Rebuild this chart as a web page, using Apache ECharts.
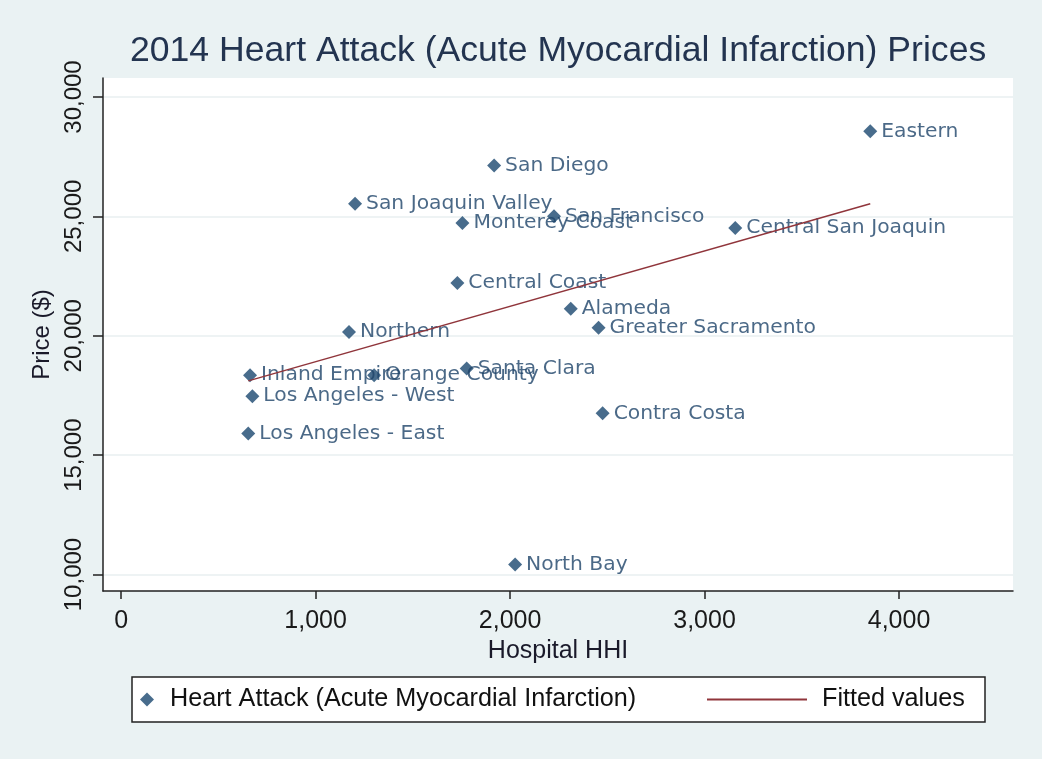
<!DOCTYPE html>
<html>
<head>
<meta charset="utf-8">
<title>2014 Heart Attack Prices</title>
<script src="https://cdn.jsdelivr.net/npm/echarts@6/dist/echarts.min.js"></script>
<style>
  html, body { margin: 0; padding: 0; background: #eaf2f3; }
  #HeartPrice { width: 1042px; height: 759px; }
</style>
</head>
<body>
<div id="HeartPrice"></div>
<script>
// region names, hospital HHI and price for each rating region
var regions = ['Eastern', 'San Diego', 'San Joaquin Valley', 'Monterey Coast', 'San Francisco',
  'Central San Joaquin', 'Central Coast', 'Alameda', 'Greater Sacramento', 'Northern',
  'Inland Empire', 'Orange County', 'Santa Clara', 'Los Angeles - West', 'Contra Costa',
  'Los Angeles - East', 'North Bay'];
var hhi = [3852, 1918, 1203, 1755, 2226, 3158, 1729, 2312, 2455, 1172, 663, 1301, 1777, 675, 2476, 654, 2026];
var price = [28560, 27130, 25530, 24720, 25000, 24510, 22210, 21130, 20330, 20160, 18350, 18350, 18630, 17470, 16750, 15910, 10420];

// fitted values line (ends of the line)
var fitHhi = [654, 3852];
var fitPrice = [18110, 25530];

// axis ticks
var xTicks = [0, 1000, 2000, 3000, 4000];
var xTickLabels = ['0', '1,000', '2,000', '3,000', '4,000'];
var yTicks = [10000, 15000, 20000, 25000, 30000];
var yTickLabels = ['10,000', '15,000', '20,000', '25,000', '30,000'];

function showHeartPrice(){
    var myChart = echarts.init(document.getElementById("HeartPrice"));

    var points = [];
    for(var i=0;i<regions.length;i++){
        points.push({name: regions[i], value: [hhi[i], price[i]]});
    }
    var fit = [];
    for(var j=0;j<fitHhi.length;j++){
        fit.push([fitHhi[j], fitPrice[j]]);
    }

    var option = {
        backgroundColor: '#eaf2f3',
        animation: false,
        title: {
            text: '2014 Heart Attack (Acute Myocardial Infarction) Prices',
            left: 130,
            top: 33,
            padding: 0,
            textStyle: {
                fontFamily: 'Liberation Sans',
                fontSize: 35.6,
                fontWeight: 'normal',
                color: '#233450'
            }
        },
        grid: {
            left: 103,
            right: 29,
            top: 78,
            bottom: 168,
            show: true,
            backgroundColor: '#ffffff',
            borderWidth: 0
        },
        graphic: [
            {
                type: 'rect',
                z: 0,
                shape: {x: 132, y: 677, width: 853, height: 45},
                style: {fill: '#ffffff', stroke: '#222222', lineWidth: 1.5}
            }
        ],
        legend: [
            {
                data: [{name: 'Heart Attack (Acute Myocardial Infarction)', icon: 'diamond'}],
                left: 140,
                top: 687,
                padding: 0,
                itemWidth: 14,
                itemHeight: 14,
                itemStyle: {borderWidth: 0},
                textStyle: {
                    fontFamily: 'Liberation Sans',
                    fontSize: 25.2,
                    color: '#111111',
                    padding: [0, 0, 0, 11]
                }
            },
            {
                data: [{name: 'Fitted values', icon: 'rect'}],
                left: 707,
                top: 687,
                padding: 0,
                itemWidth: 100,
                itemHeight: 2,
                itemStyle: {borderWidth: 0},
                textStyle: {
                    fontFamily: 'Liberation Sans',
                    fontSize: 25.2,
                    color: '#111111',
                    padding: [0, 0, 0, 10]
                }
            }
        ],
        xAxis: {
            type: 'value',
            min: -93,
            max: 4586,
            name: 'Hospital HHI',
            nameLocation: 'middle',
            nameGap: 38,
            nameTextStyle: {fontFamily: 'Liberation Sans', fontSize: 25, color: '#1a1a2a'},
            axisLine: {onZero: false, lineStyle: {color: '#222222', width: 1.5}},
            axisTick: {
                show: true,
                length: 8,
                customValues: xTicks,
                lineStyle: {color: '#222222', width: 1.5}
            },
            axisLabel: {
                customValues: xTicks,
                margin: 18,
                fontFamily: 'Liberation Sans',
                fontSize: 25,
                color: '#1a1a1a',
                formatter: function(v){ return xTickLabels[xTicks.indexOf(v)]; }
            },
            splitLine: {show: false}
        },
        yAxis: {
            type: 'value',
            min: 9310,
            max: 30795,
            name: 'Price ($)',
            nameLocation: 'middle',
            nameGap: 48,
            nameTextStyle: {fontFamily: 'Liberation Sans', fontSize: 24, color: '#1a1a2a'},
            axisLine: {show: true, onZero: false, lineStyle: {color: '#222222', width: 1.5}},
            axisTick: {
                show: true,
                length: 10,
                customValues: yTicks,
                lineStyle: {color: '#222222', width: 1.5}
            },
            axisLabel: {
                customValues: yTicks,
                rotate: 90,
                margin: 17,
                fontFamily: 'Liberation Sans',
                fontSize: 24,
                color: '#1a1a1a',
                formatter: function(v){ return yTickLabels[yTicks.indexOf(v)]; }
            },
            splitLine: {show: true, lineStyle: {color: '#e8eff1', width: 1.5}}
        },
        series: [
            {
                name: 'Heart Attack (Acute Myocardial Infarction)',
                type: 'scatter',
                symbol: 'diamond',
                symbolSize: 14,
                itemStyle: {color: '#1a476f'},
                label: {
                    show: true,
                    position: 'right',
                    distance: 4,
                    formatter: '{b}',
                    fontFamily: 'DejaVu Sans',
                    fontSize: 20.3,
                    color: '#1e4469'
                },
                data: points
            },
            {
                name: 'Fitted values',
                type: 'line',
                z: 3,
                symbol: 'none',
                color: '#90353b',
                lineStyle: {color: '#90353b', width: 1.5},
                data: fit
            }
        ]
    };

    myChart.setOption(option);
}

showHeartPrice();
</script>
</body>
</html>
